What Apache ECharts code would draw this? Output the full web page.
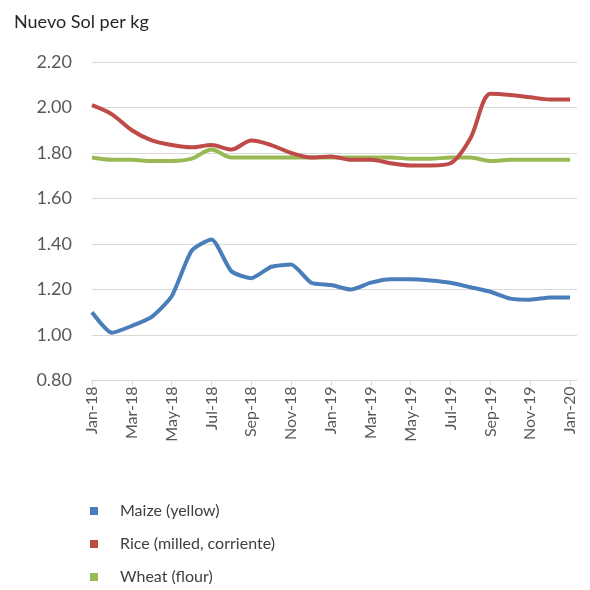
<!DOCTYPE html>
<html>
<head>
<meta charset="utf-8">
<script src="https://cdn.jsdelivr.net/npm/echarts@6/dist/echarts.min.js"></script>
<style>html,body{margin:0;padding:0;background:#fff}#c{width:590px;height:590px}</style>
</head>
<body>
<div id="c"></div>
<script>
var months = ["Jan-18","Feb-18","Mar-18","Apr-18","May-18","Jun-18","Jul-18","Aug-18","Sep-18","Oct-18","Nov-18","Dec-18",
              "Jan-19","Feb-19","Mar-19","Apr-19","May-19","Jun-19","Jul-19","Aug-19","Sep-19","Oct-19","Nov-19","Dec-19","Jan-20"];
var maize = [1.10,1.01,1.04,1.08,1.17,1.37,1.42,1.28,1.25,1.30,1.31,1.23,1.22,1.20,1.23,1.245,1.245,1.24,1.23,1.21,1.19,1.16,1.155,1.165,1.165];
var rice  = [2.01,1.97,1.90,1.855,1.835,1.825,1.835,1.815,1.855,1.835,1.80,1.78,1.785,1.77,1.77,1.755,1.745,1.745,1.755,1.865,2.06,2.055,2.045,2.035,2.035];
var wheat = [1.78,1.77,1.77,1.765,1.765,1.775,1.815,1.78,1.78,1.78,1.78,1.78,1.78,1.78,1.78,1.78,1.775,1.775,1.78,1.78,1.765,1.77,1.77,1.77,1.77];
var seriesNames = ["Maize (yellow)","Rice (milled, corriente)","Wheat (flour)"];
var colors = ["#4a7ebb","#be4b48","#98b954"];
var yTicks = {min:0.8, max:2.2, step:0.2};

function pairs(arr){ return arr.map(function(v,i){ return [i,v]; }); }
var font = "Lato, 'Open Sans', sans-serif";
var legendTops = [503, 536, 569];
var chart = echarts.init(document.getElementById('c'), null, {renderer:'canvas'});
chart.setOption({
  animation:false,
  backgroundColor:'#fff',
  title:{text:'Nuevo Sol per kg', left:9, top:8, textStyle:{fontFamily:font, fontSize:18, fontWeight:'normal', color:'#262626'}},
  grid:{left:92, right:13, top:62, bottom:209.5, containLabel:false},
  xAxis:{type:'value', min:0, max:24.35, interval:2,
    axisLine:{show:true, lineStyle:{color:'#d9d9d9', width:1}},
    axisTick:{show:true, length:5, lineStyle:{color:'#d9d9d9'}},
    splitLine:{show:false},
    axisLabel:{rotate:90, color:'#595959', fontFamily:font, fontSize:16, margin:6, showMaxLabel:false,
      formatter:function(v){ return months[Math.round(v)] || ''; }}
  },
  yAxis:{type:'value', min:yTicks.min, max:yTicks.max, interval:yTicks.step,
    axisLine:{show:false}, axisTick:{show:false},
    splitLine:{lineStyle:{color:'#d9d9d9', width:1}},
    axisLabel:{color:'#595959', fontFamily:font, fontSize:18, margin:20, formatter:function(v){return v.toFixed(2);}}
  },
  legend: seriesNames.map(function(n,i){
    return {left:90, top:legendTops[i], padding:0, itemWidth:8, itemHeight:8, icon:'rect',
      textStyle:{fontFamily:font, fontSize:16, color:'#404040', padding:[0,0,0,17]},
      data:[n]};
  }),
  series:[
    {name:seriesNames[0], type:'line', data:pairs(maize), smooth:0.2, showSymbol:false, lineStyle:{width:4, color:colors[0]}, itemStyle:{color:colors[0]}, z:3},
    {name:seriesNames[1], type:'line', data:pairs(rice), smooth:0.3, showSymbol:false, lineStyle:{width:4, color:colors[1]}, itemStyle:{color:colors[1]}, z:3},
    {name:seriesNames[2], type:'line', data:pairs(wheat), smooth:0.3, showSymbol:false, lineStyle:{width:4, color:colors[2]}, itemStyle:{color:colors[2]}, z:2}
  ]
});
</script>
</body>
</html>
